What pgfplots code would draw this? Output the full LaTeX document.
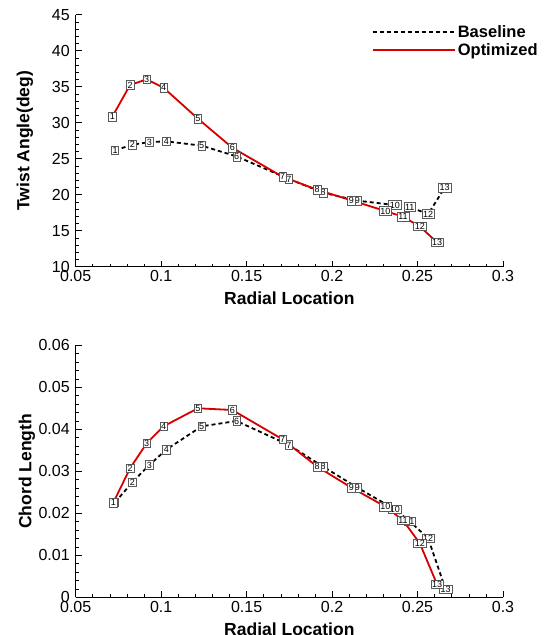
\documentclass[border=0pt]{standalone}
\usepackage{pgfplots}
\pgfplotsset{compat=1.18}
\usepackage{fontspec}
\setmainfont{Liberation Sans}
\definecolor{optred}{RGB}{215,0,0}
\definecolor{boxgray}{RGB}{90,90,90}
\begin{document}
\begin{tikzpicture}
\useasboundingbox (0,0) rectangle (549pt,635pt);
\pgfplotsset{
  common/.style={
    scale only axis, width=427.3pt, height=252pt,
    axis x line*=bottom, axis y line*=left,
    xmin=0.05, xmax=0.3, xtick={0.05,0.1,0.15,0.2,0.25,0.3}, minor x tick num=4,
    tick align=inside, major tick length=6pt, minor tick length=3pt,
    tick style={black, line width=0.6pt},
    axis line style={black, line width=0.8pt},
    ticklabel style={font=\fontsize{16}{16}\selectfont},
    yticklabel style={xshift=-2.5pt},
    scaled ticks=false,
    /pgf/number format/assume math mode=true,
    /pgf/number format/fixed, /pgf/number format/precision=2,
    label style={font=\bfseries\fontsize{17.5}{17.5}\selectfont},
    xlabel={Radial Location},
    xlabel style={at={(axis description cs:0.5,0)}, anchor=north, yshift=-22pt},
    clip=false,
    nodes near coords, point meta=explicit symbolic,
    every node near coord/.append style={anchor=center, draw=boxgray, fill=white, text=black, solid, line width=0.5pt, inner sep=1.2pt, font=\fontsize{9}{9}\selectfont},
    base/.style={black, line width=1.8pt, dash pattern=on 4pt off 3pt},
    opt/.style={optred, line width=1.8pt},
  }
}
% ---------------- Twist angle ----------------
\begin{axis}[common, at={(75.7pt,368.3pt)}, anchor=south west,
  ymin=10, ymax=45, ytick={10,15,...,45}, minor y tick num=4,
  ylabel={Twist Angle(deg)},
  ylabel style={at={(axis description cs:0,0.5)}, anchor=center, rotate=0, yshift=50.7pt},
  legend style={at={(axis description cs:0.686,0.975)}, anchor=north west, draw=none, fill=none,
    font=\bfseries\fontsize{16.5}{16.5}\selectfont, cells={anchor=west}, row sep=1pt},
  legend image code/.code={\draw[#1] (0pt,0pt) -- (75pt,0pt); \path (0pt,0pt) -- (82pt,0pt);},
]
\addplot[base] coordinates {
 (0.0730,26.16)[1] (0.0831,26.94)[2] (0.0931,27.31)[3] (0.1030,27.41)[4]
 (0.1237,26.81)[5] (0.1441,25.32)[6] (0.1747,22.18)[7] (0.1948,20.28)[8]
 (0.2148,19.17)[9] (0.2367,18.56)[10] (0.2454,18.29)[11] (0.2562,17.31)[12]
 (0.2659,20.97)[13]};
\addlegendentry{Baseline}
\addplot[opt] coordinates {
 (0.0714,30.83)[1] (0.0818,35.23)[2] (0.0915,36.02)[3] (0.1014,34.86)[4]
 (0.1215,30.56)[5] (0.1416,26.53)[6] (0.1710,22.50)[7] (0.1913,20.69)[8]
 (0.2113,19.21)[9] (0.2312,17.73)[10] (0.2415,16.94)[11] (0.2513,15.60)[12]
 (0.2614,13.38)[13]};
\addlegendentry{Optimized}
\end{axis}
% ---------------- Chord length ----------------
\begin{axis}[common, at={(75.7pt,37.7pt)}, anchor=south west,
  ymin=0, ymax=0.06, ytick={0,0.01,0.02,0.03,0.04,0.05,0.06}, minor y tick num=4,
  ylabel={Chord Length},
  ylabel style={at={(axis description cs:0,0.5)}, anchor=center, yshift=48.7pt},
]
\addplot[base] coordinates {
 (0.0730,0.0226)[1] (0.0831,0.02738)[2] (0.0931,0.03151)[3] (0.1030,0.03516)[4]
 (0.1237,0.04071)[5] (0.1441,0.04198)[6] (0.1747,0.03627)[7] (0.1948,0.03111)[8]
 (0.2148,0.02611)[9] (0.2367,0.02095)[10] (0.2454,0.01810)[11] (0.2562,0.01405)[12]
 (0.2664,0.0019)[13]};
\addplot[opt] coordinates {
 (0.0720,0.02254)[1] (0.0818,0.03071)[2] (0.0915,0.03667)[3] (0.1014,0.04071)[4]
 (0.1215,0.0450)[5] (0.1416,0.0446)[6] (0.1710,0.03762)[7] (0.1913,0.03111)[8]
 (0.2113,0.02611)[9] (0.2312,0.02159)[10] (0.2415,0.01833)[11] (0.2513,0.01286)[12]
 (0.2614,0.0031)[13]};
\end{axis}
\end{tikzpicture}
\end{document}
